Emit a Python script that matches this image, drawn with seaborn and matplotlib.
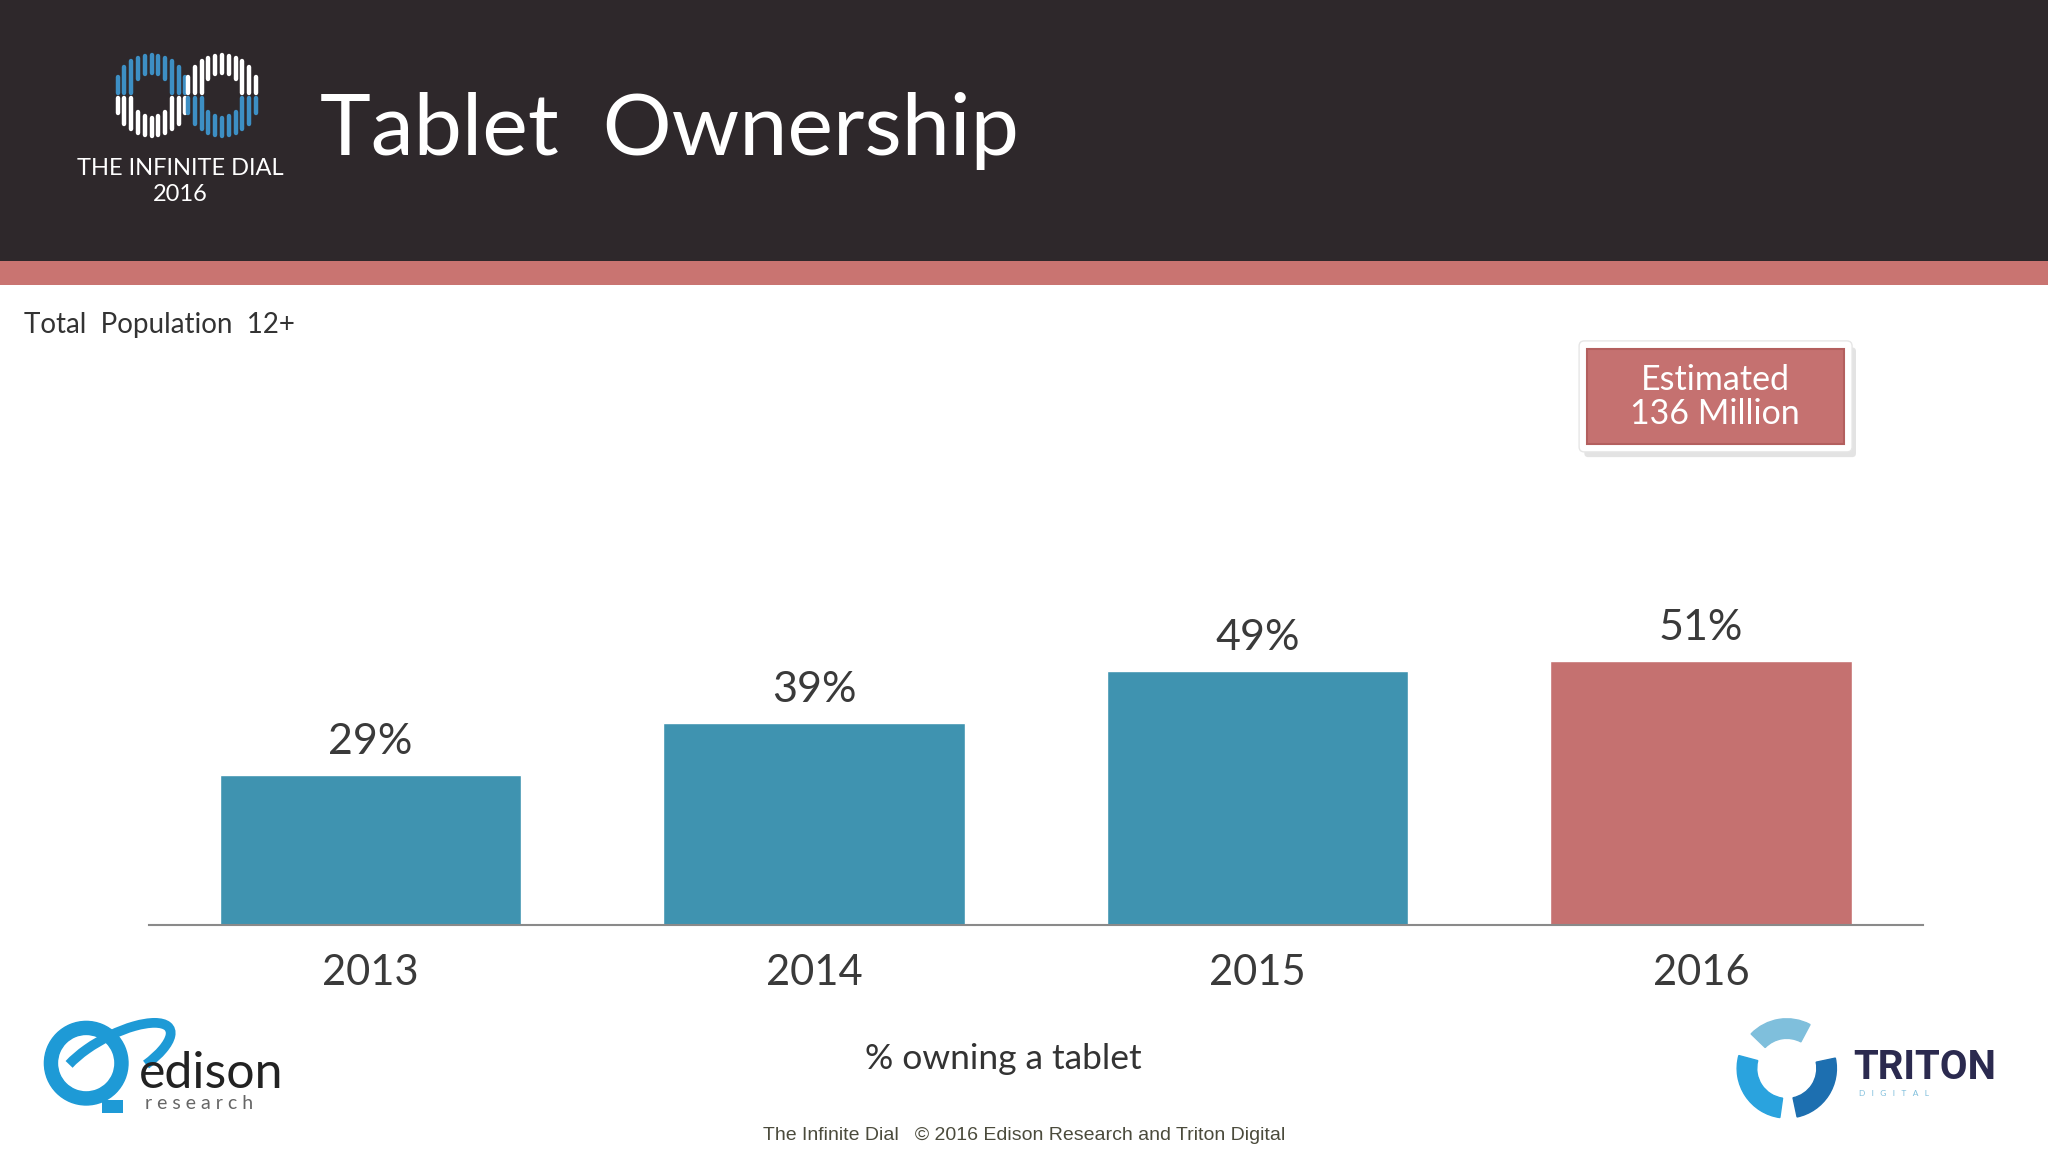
import matplotlib
matplotlib.use("Agg")
import matplotlib.pyplot as plt
import seaborn as sns
import numpy as np
from matplotlib.patches import Rectangle, FancyBboxPatch, Arc, Wedge

# chart data
years = ["2013", "2014", "2015", "2016"]
share = [29, 39, 49, 51]
bar_colors = ["#3f93b0", "#3f93b0", "#3f93b0", "#c57170"]
value_labels = ["29%", "39%", "49%", "51%"]

title = "Tablet  Ownership"
subtitle = "Total  Population  12+"
x_caption = "% owning a tablet"
callout = "Estimated\n136 Million"
footer = "The Infinite Dial   \u00a9 2016 Edison Research and Triton Digital"

sns.set_theme(style="white")
plt.rcParams["font.family"] = ["Lato", "DejaVu Sans"]

W, H = 1568, 882  # layout worked out on this grid
fig = plt.figure(figsize=(20.48, 11.52), dpi=100)
fig.patch.set_facecolor("white")

# background / decoration layer in layout coords
bg = fig.add_axes([0, 0, 1, 1], zorder=0)
bg.set_xlim(0, W)
bg.set_ylim(H, 0)
bg.axis("off")

bg.add_patch(Rectangle((0, 0), W, 200, color="#2e282b", lw=0))
bg.add_patch(Rectangle((0, 200), W, 18, color="#c97471", lw=0))

bg.text(245, 100, title, color="white", fontsize=62, va="center", ha="left")
bg.text(18, 249, subtitle, color="#333333", fontsize=20, va="center", ha="left")

# infinite dial logo: two rings of vertical ticks
for cx, top_col, bot_col in [(116, "#3d8fc4", "white"), (170, "white", "#3d8fc4")]:
    cy = 73
    for dx in np.linspace(-26, 26, 11):
        ro = 31 * np.sqrt(max(1 - (dx / 29) ** 2, 0.05))
        ri = 15 * np.sqrt(max(1 - (dx / 15) ** 2, 0)) if abs(dx) < 15 else 0
        bg.plot([cx + dx, cx + dx], [cy - ro, cy - ri - 2], color=top_col, lw=3.2, solid_capstyle="round")
        bg.plot([cx + dx, cx + dx], [cy + ri + 2, cy + ro], color=bot_col, lw=3.2, solid_capstyle="round")
bg.text(138, 129, "THE INFINITE DIAL", color="white", fontsize=17, ha="center", va="center")
bg.text(138, 149, "2016", color="white", fontsize=17, ha="center", va="center")

# callout box
bg.add_patch(FancyBboxPatch((1213, 266), 208, 84, boxstyle="round,pad=0,rounding_size=3",
                            fc="#d8d8d8", ec="none", alpha=0.7))
bg.add_patch(FancyBboxPatch((1209, 261), 209, 85, boxstyle="round,pad=0,rounding_size=4",
                            fc="white", ec="#e6e6e6", lw=1))
bg.add_patch(Rectangle((1215, 267), 197, 73, fc="#c57170", ec="#b35f5e", lw=1.5))
bg.text(1313, 304, callout, color="white", fontsize=24.5, ha="center", va="center", linespacing=1.1)

# bottom captions
bg.text(768, 811, x_caption, color="#333333", fontsize=25.5, ha="center", va="center")
bg.text(784, 869, footer, color="#4b4b3c", fontsize=14, ha="center", va="center",
        family=["Liberation Sans", "DejaVu Sans"])

# edison logo
bg.add_patch(Wedge((66, 814), 32, 0, 360, width=10, color="#1e9ad6"))
bg.add_patch(Arc((88, 810), 95, 34, angle=-28, theta1=200, theta2=40, color="#1e9ad6", lw=7))
bg.add_patch(Rectangle((78, 842), 16, 10, color="#1e9ad6", lw=0))
bg.text(106, 822, "edison", color="#222222", fontsize=36, ha="left", va="center")
bg.text(111, 845, "r e s e a r c h", color="#666666", fontsize=14, ha="left", va="center")


# triton logo: three ring segments (screen angles, y axis is inverted)
def ring_seg(a1, a2, col):
    bg.add_patch(Wedge((1368, 818), 38, -a2, -a1, width=15, color=col))


ring_seg(62, 136, "#7fbfdc")
ring_seg(165, 262, "#2aa3de")
ring_seg(282, 372, "#1d6fb0")
bg.text(1419, 818, "TRITON", color="#2b2a4f", fontsize=29, fontweight="bold", ha="left", va="center",
        family=["Roboto", "DejaVu Sans"])
bg.text(1423, 837, "D   I   G   I   T   A   L", color="#7fbfdc", fontsize=6, ha="left", va="center")

# bar chart
ax = fig.add_axes([114 / W, 1 - 708 / H, (1472 - 114) / W, (708 - 260) / H], zorder=2)
ax.patch.set_alpha(0)
sns.barplot(x=years, y=share, hue=years, palette=bar_colors, legend=False,
            width=0.68, saturation=1, ax=ax)
ax.set_xlim(-0.5, 3.5)
ax.set_ylim(0, 113)
for i, v in enumerate(share):
    ax.annotate(value_labels[i], (i, v), xytext=(0, 10), textcoords="offset points",
                ha="center", va="bottom", fontsize=31, color="#3a3a3a")
sns.despine(ax=ax, left=True)
ax.spines["bottom"].set_color("#8a8a8a")
ax.spines["bottom"].set_linewidth(1.5)
ax.set_yticks([])
ax.set_xlabel("")
ax.set_ylabel("")
ax.tick_params(axis="x", length=0, pad=21, labelsize=30, labelcolor="#3a3a3a")

fig.savefig("out.png", dpi=100)
